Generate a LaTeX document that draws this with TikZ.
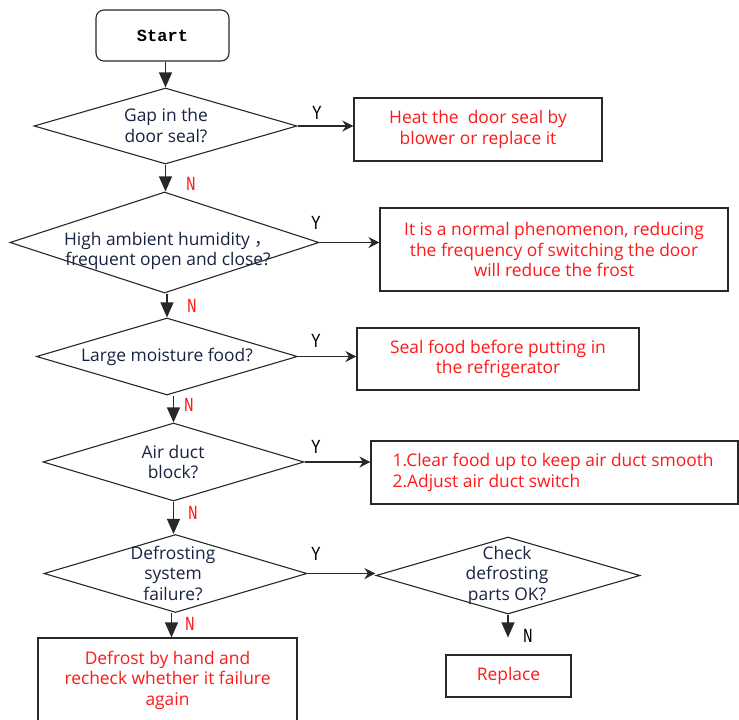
\documentclass[tikz,border=0pt]{standalone}
\usepackage{fontspec}
\setmainfont{Open Sans}
\newfontfamily\monofont{Liberation Mono}
\newfontfamily\labfont[FakeStretch=0.8]{Liberation Mono}
\newfontfamily\cjkfont{Noto Sans CJK SC}
\usetikzlibrary{shapes.geometric,arrows.meta,calc}
\definecolor{lc}{RGB}{40,40,40}
\definecolor{rtxt}{RGB}{255,25,25}
\definecolor{ntxt}{RGB}{25,35,65}
\begin{document}
\begin{tikzpicture}[x=1pt,y=-1pt,
  dia/.style={diamond, draw=lc, line width=1.1pt, inner sep=0pt, aspect=1},
  bx/.style={rectangle, draw=lc, line width=1.1pt, inner sep=0pt, align=center,
     text=rtxt, font=\fontsize{17.4}{20.5}\selectfont},
  dtxt/.style={align=center, text=ntxt, inner sep=0pt, font=\fontsize{17.4}{20.5}\selectfont},
  varr/.style={draw=lc, line width=1.1pt, -{Triangle[width=13pt,length=15pt]}},
  harr/.style={draw=lc, line width=1.1pt, -{Stealth[width=11pt,length=11pt,inset=3.5pt]}},
  ylab/.style={inner sep=0pt, font=\labfont\fontsize{20}{20}\selectfont, text=black},
  nlab/.style={inner sep=0pt, font=\labfont\fontsize{20}{20}\selectfont, text=rtxt},
]
\useasboundingbox (0,0) rectangle (739,720);
\fill[white] (0,0) rectangle (739,720);
\clip (0,0) rectangle (739,720);

% start
\node[draw=lc, line width=1.1pt, rounded corners=8pt, minimum width=133pt, minimum height=51pt,
  inner sep=0pt, font=\monofont\bfseries\fontsize{17}{17}\selectfont] (start) at (162.5,35.5) {Start};

% diamonds
\node[dia, minimum width=263pt, minimum height=76pt] (d1) at (165.5,126) {};
\node[dtxt] (t1) at (166,125.5) {Gap in the\\door seal?};
\node[dia, minimum width=309pt, minimum height=101pt] (d2) at (164.5,242.5) {};
\node[dtxt] (t2) at (168,251) {High ambient humidity {\cjkfont ，}\\frequent open and close?};
\node[dia, minimum width=261pt, minimum height=77pt] (d3) at (167,356.5) {};
\node[dtxt] (t3) at (167,357) {Large moisture food?};
\node[dia, minimum width=261pt, minimum height=78pt] (d4) at (173.5,462) {};
\node[dtxt] (t4) at (173,462) {Air duct\\block?};
\node[dia, minimum width=263pt, minimum height=78pt] (d5) at (175.5,573.5) {};
\node[dtxt] (t5) at (173,573) {Defrosting\\system\\failure?};
\node[dia, minimum width=264pt, minimum height=77pt] (d6) at (508,575.5) {};
\node[dtxt] (t6) at (507,575) {Check\\defrosting\\parts OK?};

% boxes
\node[bx, minimum width=248pt, minimum height=63pt] (b1) at (478,129.5) {Heat the \ door seal by\\blower or replace it};
\node[bx, minimum width=348pt, minimum height=83pt] (b2) at (554,249.5) {It is a normal phenomenon, reducing\\the frequency of switching the door\\will reduce the frost};
\node[bx, minimum width=282pt, minimum height=62pt] (b3) at (498,359) {Seal food before putting in\\the refrigerator};
\node[bx, minimum width=367pt, minimum height=63pt] (b4) at (554.5,472.5) {};
\node[bx, draw=none, align=left, anchor=west] (t7) at (392,472.5) {1.Clear food up to keep air duct smooth\\2.Adjust air duct switch};
\node[bx, minimum width=259pt, minimum height=84pt] (b5) at (167.5,680) {Defrost by hand and\\recheck whether it failure\\again};
\node[bx, minimum width=125pt, minimum height=42pt] (b6) at (508.5,676) {Replace};

% vertical arrows
\draw[varr] (d1.north |- start.south) -- (d1.north);
\draw[varr] (d1.south) -- (d1.south |- d2.north);
\draw[varr] (d3.north |- d2.south) -- (d3.north);
\draw[varr] (d4.north |- d3.south) -- (d4.north);
\draw[varr] (d4.south) -- (d4.south |- d5.north);
\draw[varr] ($(d5.south)+(-4,0)$) -- ($(d5.south |- b5.north)+(-4,0)$);
\draw[varr, shorten >=17pt] (d6.south) -- (d6.south |- b6.north);

% horizontal arrows
\draw[harr] (d1.east) -- (d1.east -| b1.west);
\draw[harr] (d2.east) -- (d2.east -| b2.west);
\draw[harr] (d3.east) -- (d3.east -| b3.west);
\draw[harr] (d4.east) -- (d4.east -| b4.west);
\draw[harr] (d5.east) -- (d5.east -| d6.west);

% labels
\node[ylab] (y1) at (317,113) {Y};
\node[ylab] (y2) at (316,223) {Y};
\node[ylab] (y3) at (316,341) {Y};
\node[ylab] (y4) at (316,447) {Y};
\node[ylab] (y5) at (316,554) {Y};
\node[nlab] (n1) at (191,184) {N};
\node[nlab] (n2) at (192,306) {N};
\node[nlab] (n3) at (189,405) {N};
\node[nlab] (n4) at (193,513) {N};
\node[nlab] (n5) at (190,624) {N};
\node[ylab] (n6) at (528,636) {N};
\end{tikzpicture}
\end{document}
